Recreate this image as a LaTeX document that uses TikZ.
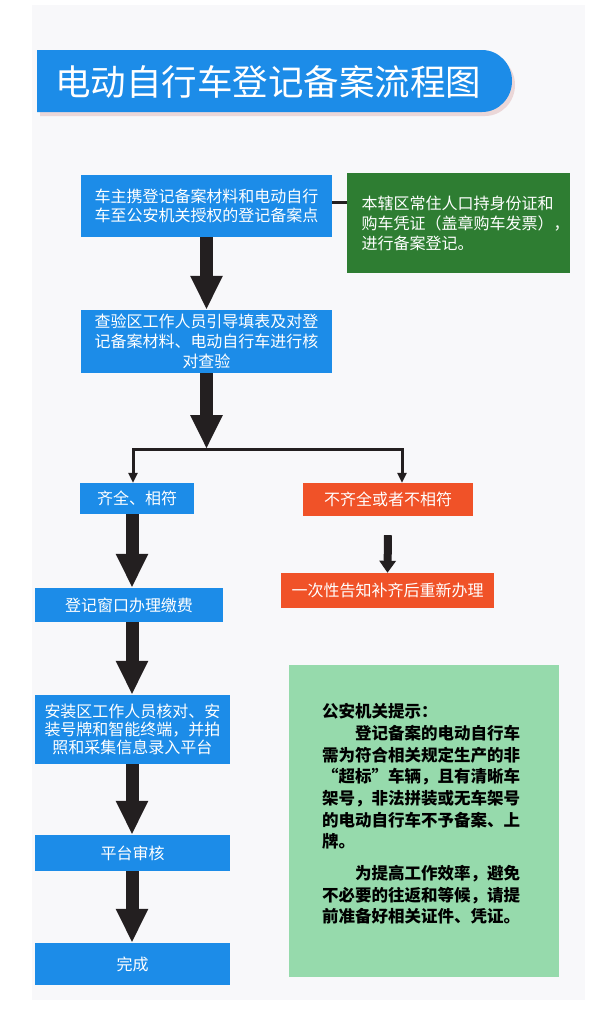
\documentclass[tikz,border=0pt]{standalone}
\usepackage{fontspec}
\newfontfamily\cjk{Noto Sans CJK SC}
\usetikzlibrary{arrows.meta}
\definecolor{cblue}{RGB}{28,140,232}
\definecolor{dgreen}{RGB}{46,125,50}
\definecolor{cred}{RGB}{240,82,40}
\definecolor{lgreen}{RGB}{150,218,172}
\definecolor{pagec}{RGB}{248,248,250}
\definecolor{arrowc}{RGB}{35,31,32}
\tikzset{
  box/.style={inner sep=0pt, align=center, text=white, font=\cjk\fontsize{16}{19}\selectfont},
  bluebox/.style={box, fill=cblue},
  redbox/.style={box, fill=cred},
  greenbox/.style={box, fill=dgreen},
  tipbox/.style={inner sep=0pt, fill=lgreen},
  tiptext/.style={inner sep=0pt, text=black, font=\cjk\bfseries\fontsize{16.5}{21.7}\selectfont},
  bigarrow/.style={draw=arrowc, line width=13pt, -{Triangle[width=30pt,length=34pt]}},
  branch/.style={draw=arrowc, line width=3pt, {Triangle[width=9pt,length=10pt]}-{Triangle[width=9pt,length=10pt]}},
  redarrow/.style={draw=arrowc, line width=8pt, -{Triangle[width=16pt,length=12pt]}},
  conn/.style={draw=arrowc, line width=3pt},
}
\begin{document}
\begin{tikzpicture}[x=1pt,y=-1pt]
\useasboundingbox (0,0) rectangle (600,1021);
\fill[white] (0,0) rectangle (600,1021);
\fill[pagec] (32,5) rectangle (585,1000);
% title bar
\fill[gray!60!red!40,opacity=0.5] (40,54) -- (485,54) to[out=0,in=90] (515,85) to[out=-90,in=0] (485,116) -- (40,116) -- cycle;
\fill[cblue] (37,50) -- (482,50) to[out=0,in=90] (512,81) to[out=-90,in=0] (482,112) -- (37,112) -- cycle;
\node[anchor=west, inner sep=0pt, text=white, font=\cjk\fontsize{35.5}{40}\selectfont] (title) at (55,82) {电动自行车登记备案流程图};
% nodes
\node[bluebox, minimum width=251pt, minimum height=62pt] (b1) at (206.5,206) {车主携登记备案材料和电动自行\\车至公安机关授权的登记备案点};
\node[greenbox, minimum width=223pt, minimum height=100pt, text width=194pt, align=left, font=\cjk\fontsize{16}{20}\selectfont] (g1) at (458.5,223) {本辖区常住人口持身份证和\\购车凭证（盖章购车发票），\\进行备案登记。};
\node[bluebox, minimum width=251pt, minimum height=63pt, font=\cjk\fontsize{16}{20}\selectfont] (b2) at (206.5,341.5) {查验区工作人员引导填表及对登\\记备案材料、电动自行车进行核\\对查验};
\node[bluebox, minimum width=114pt, minimum height=31pt] (ok) at (137,498.5) {齐全、相符};
\node[redbox, minimum width=170pt, minimum height=33pt] (no) at (388,499.5) {不齐全或者不相符};
\node[redbox, minimum width=213pt, minimum height=35pt] (redo) at (387.5,590.5) {一次性告知补齐后重新办理};
\node[bluebox, minimum width=188pt, minimum height=34pt] (pay) at (129,605) {登记窗口办理缴费};
\node[bluebox, minimum width=195pt, minimum height=69pt, font=\cjk\fontsize{16}{18}\selectfont] (inst) at (132.5,729.5) {安装区工作人员核对、安\\装号牌和智能终端，并拍\\照和采集信息录入平台};
\node[bluebox, minimum width=195pt, minimum height=36pt] (rev) at (132.5,853) {平台审核};
\node[bluebox, minimum width=195pt, minimum height=42pt] (done) at (132.5,964) {完成};
\node[tipbox, minimum width=270pt, minimum height=312pt] (tip) at (424,821) {};
\node[tiptext, text width=200pt, align=left] (tipt) at (422,814) {公安机关提示：\\\hspace*{33pt}登记备案的电动自行车\\需为符合相关规定生产的非\\“超标”车辆，且有清晰车\\架号，非法拼装或无车架号\\的电动自行车不予备案、上\\牌。\\[10pt]\hspace*{33pt}为提高工作效率，避免\\不必要的往返和等候，请提\\前准备好相关证件、凭证。};
% helper coordinates
\coordinate (cy) at (0,202);
\coordinate (jy) at (0,449);
\coordinate (jl) at (133,449);
\coordinate (jr) at (402,449);
\coordinate (colx) at (132,0);
% connectors
\draw[conn] (b1.east |- cy) -- (g1.west |- cy);
\draw[bigarrow] (b1.south) -- (b2.north);
\draw[bigarrow] (b2.south) -- (b2.south |- jy);
\draw[branch] (ok.north -| jl) -- (jl) -- (jr) -- (no.north -| jr);
\draw[redarrow] ([yshift=-19pt]no.south) -- (redo.north);
\draw[bigarrow] (ok.south -| colx) -- (pay.north -| colx);
\draw[bigarrow] (pay.south -| colx) -- (inst.north -| colx);
\draw[bigarrow] (inst.south -| colx) -- (rev.north -| colx);
\draw[bigarrow] (rev.south -| colx) -- (done.north -| colx);
\end{tikzpicture}
\end{document}
